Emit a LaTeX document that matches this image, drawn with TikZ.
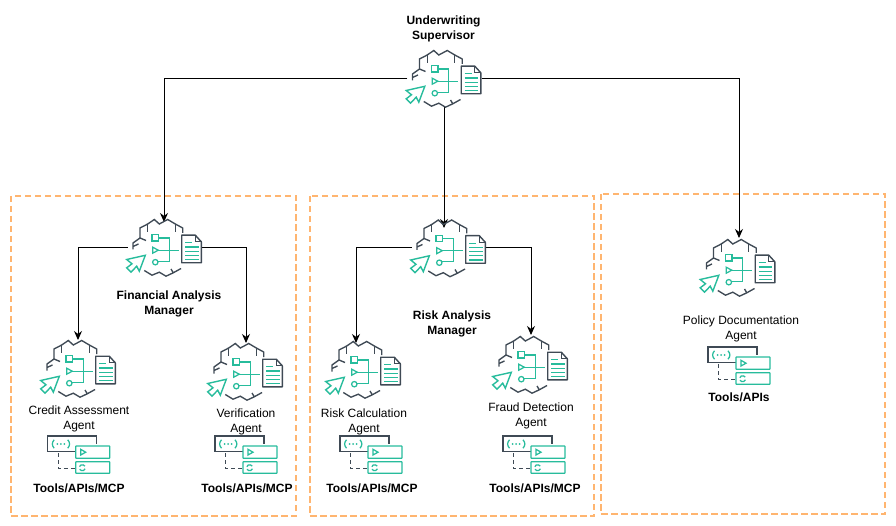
\documentclass[tikz,border=0pt]{standalone}
\usepackage{fontspec}
\setmainfont{Liberation Sans}
\usetikzlibrary{arrows.meta}
\definecolor{dk}{HTML}{3F4A55}
\definecolor{gn}{HTML}{27BC9C}
\definecolor{og}{HTML}{FFB570}
\tikzset{
 conn/.style={draw=black,line width=0.9pt,-{Stealth[length=9pt,width=8pt]}},
 zone/.style={draw=og,line width=1.6pt,dash pattern=on 6.5pt off 3.5pt},
 lbl/.style={font=\fontsize{12}{14.3}\selectfont,align=center,inner sep=0pt,text=black},
 blbl/.style={font=\fontsize{12}{14.3}\selectfont\bfseries,align=center,inner sep=0pt,text=black},
 slot/.style={inner sep=0pt,minimum width=74pt,minimum height=57pt},
 dkl/.style={draw=dk,line width=1.35pt,line join=miter},
 gnl/.style={draw=gn,line width=1.25pt},
 agent/.pic={
  \draw[dkl] (-32,2.5)--(-32,-4)--(-25,-9)--(-19,-6.5) (-32,-0.5)--(-26.5,-3);
  \draw[dkl] (-25,-9)--(-25,-19)--(-17.3,-23)--(-10.7,-27.5)--(-5.7,-23)--(2.7,-27.5)--(10.3,-23)--(17.7,-19)--(17.7,-14);
  \draw[dkl] (-17.3,-23)--(-17.3,-15) (10.3,-23)--(10.3,-15);
  \draw[dkl] (-20.7,23.5)--(-13,28.2)--(-5.7,25.2)--(1,29.2)--(8.3,25.8)--(16,21.5) (8.3,25.8)--(6,22);
  \draw[gnl] (-13,-12.3) rectangle (-6.5,-6);
  \draw[gnl] (-12.3,0.2)--(-12.3,6.2)--(-6.7,3.2)--cycle;
  \draw[gnl] (-9.7,15.2) circle (2.7);
  \draw[gnl] (-6.5,-9)--(4.3,-9)--(4.3,14.2)--(-7,14.2);
  \draw[gnl] (-6.7,3.2)--(13.7,3.2);
  \draw[dk,line width=1.4pt,fill=white,line join=round] (16.7,-11.8)--(30.3,-11.8)--(36.3,-5.2)--(36.3,15.8)--(16.7,15.8)--cycle;
  \draw[dkl,line width=1pt] (30.3,-11.8)--(30.3,-5.2)--(36.3,-5.2);
  \draw[gnl] (20,-4.2)--(27,-4.2);
  \foreach \yy in {0,4.2,8.2,12.5} \draw[gnl] (20,\yy)--(33.5,\yy);
  \draw[draw=gn,line width=1.4pt,line join=miter] (-19.7,8.3)--(-38.3,12.5)--(-33,16.8)--(-38.3,20.8)--(-34,25.2)--(-28.3,19.2)--(-25.7,24.2)--cycle;
 },
 toolset/.pic={
  \draw[dkl] (28,15.7)--(0,15.7)--(0,0)--(49,0)--(49,8);
  \draw[gnl,rounded corners=0.5pt] (28,10) rectangle (62,22.3);
  \draw[gnl,rounded corners=0.5pt] (28,25.7) rectangle (62,37.3);
  \draw[dk,line width=1pt,dash pattern=on 4pt off 3pt] (10.5,17)--(10.5,32.3)--(27,32.3);
  \draw[gnl] (33,13.3)--(33,19)--(38,16.2)--cycle;
  \draw[gnl] ([shift={(200:3)}]34.6,31.7) arc[start angle=200,end angle=330,radius=3];
  \draw[gnl] ([shift={(20:3)}]34.6,31.7) arc[start angle=20,end angle=150,radius=3];
  \draw[gnl] (6.5,3.8) .. controls (4,6.5) and (4,9.5) .. (6.5,12.2);
  \draw[gnl] (20,3.8) .. controls (22.5,6.5) and (22.5,9.5) .. (20,12.2);
  \fill[gn] (9.7,8) circle (1) (13.2,8) circle (1) (16.7,8) circle (1);
 }
}
\begin{document}
\begin{tikzpicture}[x=1pt,y=-1pt]
\useasboundingbox (0,0) rectangle (896,526);
\draw[zone] (11,196) rectangle (296,516);
\draw[zone] (310,196) rectangle (594,516);
\draw[zone] (601,194) rectangle (885,514);

\node[slot] (sup) at (444.5,78) {};
\node[slot] (fin) at (165,247) {};
\node[slot] (rsk) at (449,247.5) {};
\node[slot] (pol) at (738.5,267) {};
\node[slot] (cre) at (79,368) {};
\node[slot] (ver) at (246,371) {};
\node[slot] (cal) at (364,369) {};
\node[slot] (fra) at (531,364) {};

\coordinate (supdown) at (444,107);
\coordinate (rsktop) at (444,228);
\coordinate (fintop) at (164,222);
\coordinate (poltop) at (739,238);
\coordinate (cretop) at (78,340);
\coordinate (vertop) at (246,343);
\coordinate (caltop) at (356,343);
\coordinate (fratop) at (531,335);

\draw[conn] (sup.west) -| (fintop);
\draw[conn] (sup.east) -| (poltop);
\draw[conn] (supdown) -- (rsktop);
\draw[conn] (fin.west) -| (cretop);
\draw[conn] (fin.east) -| (vertop);
\draw[conn] (rsk.west) -| (caltop);
\draw[conn] (rsk.east) -| (fratop);

\foreach \n in {sup,fin,rsk,pol,cre,ver,cal,fra} \pic at (\n) {agent};

\pic at (47.7,436) {toolset};
\pic at (215,436) {toolset};
\pic at (340,436) {toolset};
\pic at (503,436) {toolset};
\pic at (708,347) {toolset};

\node[blbl] (t1) at (443.5,29) {Underwriting\\Supervisor};
\node[blbl] (t2) at (169,304) {Financial Analysis\\Manager};
\node[blbl] (t3) at (452,324) {Risk Analysis\\Manager};
\node[lbl] (t4) at (79,419) {Credit Assessment\\Agent};
\node[lbl] (t5) at (246,422) {Verification\\Agent};
\node[lbl] (t6) at (364,422) {Risk Calculation\\Agent};
\node[lbl] (t7) at (531,416) {Fraud Detection\\Agent};
\node[lbl] (t8) at (741,329) {Policy Documentation\\Agent};
\node[blbl] (u1) at (79,488) {Tools/APIs/MCP};
\node[blbl] (u2) at (247,488) {Tools/APIs/MCP};
\node[blbl] (u3) at (372,488) {Tools/APIs/MCP};
\node[blbl] (u4) at (535,488) {Tools/APIs/MCP};
\node[blbl] (u5) at (739,397) {Tools/APIs};
\end{tikzpicture}
\end{document}
